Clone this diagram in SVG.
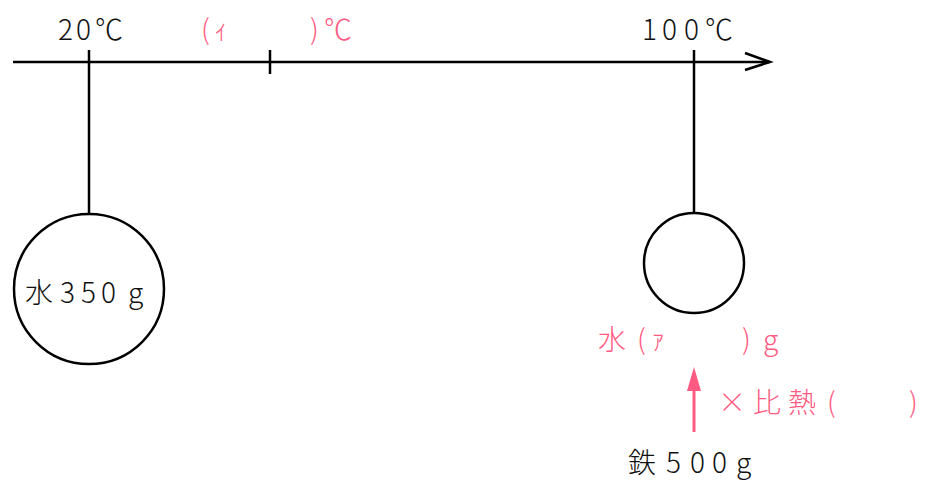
<svg xmlns="http://www.w3.org/2000/svg" width="925" height="483" viewBox="0 0 925 483">
<style>
.ln{stroke:#000;stroke-width:2.5;fill:none}
.t{font-family:"Noto Sans CJK JP","Noto Sans",sans-serif;font-size:28px;font-weight:300}
.k{fill:#111}
.p{fill:#ff5a82}
</style>
<g id="connectors">
<line class="ln" x1="13" y1="62" x2="770" y2="62"/>
<polyline class="ln" points="745,53 770,62 745,70"/>
<line class="ln" x1="89" y1="50" x2="89" y2="214"/>
<line class="ln" x1="270" y1="50" x2="270" y2="74"/>
<line class="ln" x1="694" y1="50" x2="694" y2="214"/>
<line x1="694" y1="432" x2="694" y2="388" stroke="#ff5a82" stroke-width="3"/>
<polygon points="694,367 687,391 701,391" fill="#ff5a82"/>
</g>
<g id="label-20"><text class="t k" x="58 76 95" y="40">20℃</text></g>
<g id="label-i"><text class="t p" x="201 214 310 324" y="40">(ｨ)℃</text></g>
<g id="label-100"><text class="t k" x="642 662 684 705" y="40">100℃</text></g>
<g id="water350">
<circle class="ln" cx="89" cy="289" r="75"/>
<text class="t k" x="25 60 81 101 128" y="303">水350g</text>
</g>
<g id="waterA">
<circle class="ln" cx="694" cy="263" r="50"/>
<text class="t p" x="598 637 651 742 763" y="350">水(ｧ)g</text>
</g>
<g id="specheat"><text class="t p" x="718 753 788 827 909" y="413">×比熱()</text></g>
<g id="iron"><text class="t k" x="628 666 690 712 736" y="473">鉄500g</text></g>
</svg>
